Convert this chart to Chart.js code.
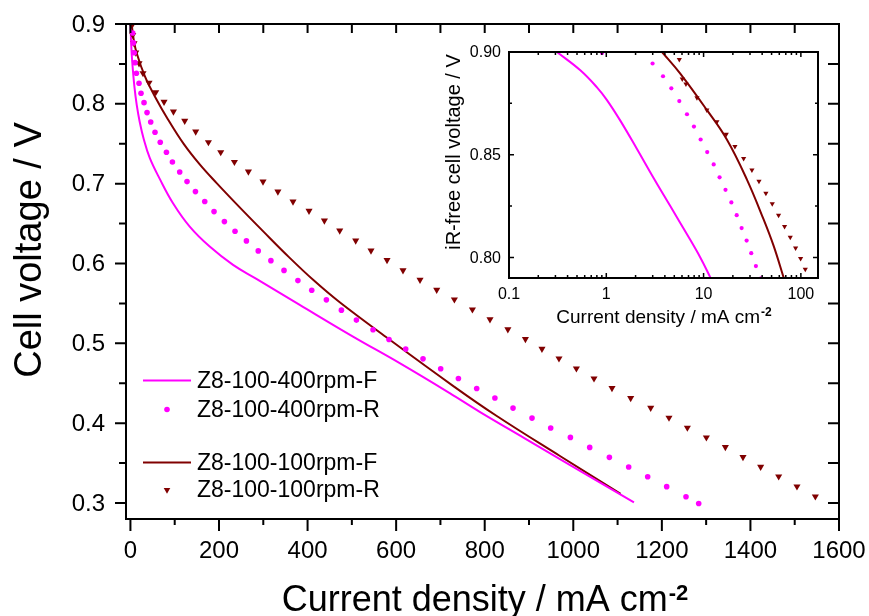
<!DOCTYPE html>
<html lang="en">
<head>
<meta charset="UTF-8">
<title>Cell voltage vs current density</title>
<script src="https://cdn.jsdelivr.net/npm/chart.js"></script>
<style>
    body { margin: 0; background: #fff; }
    #wrap { position: relative; width: 869px; height: 616px; }
    #mainChart { position: absolute; left: 0; top: 0; }
    #insetChart { position: absolute; left: 440px; top: 30px; }
</style>
</head>
<body>
<div id="wrap">
    <canvas id="mainChart" width="869" height="616"></canvas>
    <canvas id="insetChart" width="400" height="310"></canvas>
</div>
<script>
// ---- main plot: current density (mA cm-2) vs cell voltage (V) ----
const f400I = [0.3, 1.8, 4.1, 9.0, 14.2, 21.0, 30.0, 43.6, 66.2, 96.2, 133.9, 179.0, 231.7, 284.5, 382.3, 502.6, 608.0, 721.0, 788.7, 890.3, 991.9, 1137.0];
const f400V = [0.9, 0.8737, 0.8524, 0.8215, 0.7986, 0.7773, 0.7560, 0.7322, 0.7060, 0.6755, 0.6462, 0.6212, 0.5983, 0.5808, 0.5482, 0.5085, 0.4752, 0.4377, 0.4143, 0.3811, 0.3479, 0.3007];

const r400I = [5.2, 6.8, 8.6, 10.4, 13.5, 19.4, 23.9, 30.7, 37.5, 45.8, 55.5, 67.3, 81.3, 94.8, 111.3, 127.8, 146.8, 167.8, 188.8, 212.2, 236.2, 261.9, 288.6, 317.2, 346.8, 378.2, 409.4, 442.5, 476.4, 510.3, 547.8, 583.9, 621.6, 660.7, 700.6, 740.6, 781.9, 823.0, 863.9, 906.8, 949.0, 993.5, 1037.1, 1081.5, 1125.1, 1168.0, 1210.9, 1254.5, 1283.2];
const r400V = [0.8887, 0.8763, 0.8639, 0.8516, 0.8383, 0.8258, 0.8132, 0.8015, 0.7890, 0.7773, 0.7644, 0.7519, 0.7394, 0.7272, 0.7147, 0.7026, 0.6901, 0.6776, 0.6650, 0.6525, 0.6405, 0.6283, 0.6158, 0.6036, 0.5914, 0.5786, 0.5666, 0.5545, 0.5416, 0.5291, 0.5170, 0.5048, 0.4928, 0.4806, 0.4681, 0.4560, 0.4435, 0.4315, 0.4189, 0.4064, 0.3939, 0.3822, 0.3697, 0.3572, 0.3452, 0.3330, 0.3205, 0.3079, 0.2995];

const f100I = [2.7, 7.5, 14.2, 33.0, 55.5, 84.2, 120.3, 156.5, 194.2, 246.8, 301.0, 357.4, 413.8, 472.6, 578.0, 728.4, 826.4, 969.0, 1107.0];
const f100V = [0.9, 0.8800, 0.8633, 0.8340, 0.8090, 0.7811, 0.7498, 0.7241, 0.7010, 0.6703, 0.6396, 0.6083, 0.5789, 0.5514, 0.5076, 0.4468, 0.4093, 0.3592, 0.3116];

const r100I = [3.4, 5.2, 8.1, 12.0, 19.4, 28.4, 42.0, 57.1, 75.9, 97.1, 122.6, 147.4, 176.1, 203.9, 234.8, 266.4, 299.4, 333.0, 367.1, 403.3, 438.0, 472.6, 508.7, 543.2, 579.4, 615.5, 653.9, 691.6, 731.5, 772.2, 811.9, 852.3, 891.9, 929.3, 967.7, 1007.0, 1046.8, 1087.4, 1129.6, 1174.8, 1216.1, 1257.6, 1300.5, 1343.4, 1383.2, 1423.1, 1463.8, 1505.1, 1546.6];
const r100V = [0.8984, 0.8862, 0.8758, 0.8641, 0.8508, 0.8383, 0.8265, 0.8145, 0.8024, 0.7903, 0.7786, 0.7652, 0.7519, 0.7394, 0.7272, 0.7151, 0.7026, 0.6901, 0.6775, 0.6659, 0.6538, 0.6412, 0.6287, 0.6162, 0.6042, 0.5914, 0.5795, 0.5670, 0.5549, 0.5424, 0.5301, 0.5176, 0.5053, 0.4932, 0.4810, 0.4685, 0.4560, 0.4440, 0.4314, 0.4193, 0.4068, 0.3943, 0.3821, 0.3701, 0.3576, 0.3454, 0.3333, 0.3207, 0.3082];

// ---- inset: iR-free cell voltage, log current density ----
const inF400I = [0.311, 0.541, 0.802, 1.016, 1.393, 2.067, 3.063, 4.546, 6.75, 9.25, 11.72];
const inF400V = [0.9, 0.8911, 0.8828, 0.8766, 0.8666, 0.8528, 0.8387, 0.8250, 0.8113, 0.8000, 0.7903];
const inR400I = [0.904, 2.99, 3.83, 4.66, 5.63, 6.75, 7.96, 9.33, 10.9, 12.7, 14.6, 16.8, 19.3, 21.9, 24.6, 27.7, 30.9, 34.5, 38.9];
const inR400V = [0.8995, 0.8944, 0.8882, 0.8823, 0.8761, 0.8697, 0.8637, 0.8574, 0.8513, 0.8453, 0.8390, 0.8329, 0.8268, 0.8206, 0.8143, 0.8082, 0.8021, 0.7958, 0.7898];
const inF100I = [3.74, 5.76, 10.8, 17.4, 27.9, 41.4, 52.5, 66.4];
const inF100V = [0.9, 0.8895, 0.8718, 0.8573, 0.8379, 0.8185, 0.8056, 0.7903];
const inR100I = [5.63, 6.04, 6.59, 8.55, 10.8, 13.7, 17.1, 21.0, 25.8, 31.4, 37.1, 43.7, 50.8, 59.0, 68.0, 77.8, 88.3, 99.4, 111, 125];
const inR100V = [0.8963, 0.8869, 0.8844, 0.8777, 0.8718, 0.8661, 0.8600, 0.8540, 0.8482, 0.8426, 0.8371, 0.8313, 0.8261, 0.8205, 0.8151, 0.8098, 0.8046, 0.7995, 0.7943, 0.7898];

const legendLabels = ['Z8-100-400rpm-F', 'Z8-100-400rpm-R', 'Z8-100-100rpm-F', 'Z8-100-100rpm-R'];

// ticks
const mainXMajor = [0, 200, 400, 600, 800, 1000, 1200, 1400, 1600];
const mainXMinor = [100, 300, 500, 700, 900, 1100, 1300, 1500];
const mainYMajor = [0.3, 0.4, 0.5, 0.6, 0.7, 0.8, 0.9];
const mainYMinor = [0.35, 0.45, 0.55, 0.65, 0.75, 0.85];
const insetXMajor = [0.1, 1, 10, 100];
const insetXLabels = ['0.1', '1', '10', '100'];
const insetXMinor = [0.2, 0.3, 0.4, 0.5, 0.6, 0.7, 0.8, 0.9, 2, 3, 4, 5, 6, 7, 8, 9, 20, 30, 40, 50, 60, 70, 80, 90];
const insetYMajor = [0.80, 0.85, 0.90];
const insetYMinor = [0.825, 0.875];

const PINK = '#ff00ff';
const DARK = '#800000';
const FONT = '"Liberation Sans", Arial, sans-serif';

function pts(xs, ys) {
    return xs.map((x, i) => ({ x: x, y: ys[i] }));
}

function lineSet(label, xs, ys, color) {
    return {
        label: label, data: pts(xs, ys), showLine: true, pointRadius: 0,
        borderColor: color, borderWidth: 2, tension: 0.4, order: 2
    };
}

function dotSet(label, xs, ys, color, r) {
    return {
        label: label, data: pts(xs, ys), pointRadius: r, pointBorderWidth: 0,
        backgroundColor: color, borderColor: color, order: 1
    };
}

function triSet(label, xs, ys, color, r) {
    return {
        label: label, data: pts(xs, ys), pointStyle: 'triangle', rotation: 180,
        pointRadius: r, pointBorderWidth: 0, backgroundColor: color, borderColor: color, order: 1
    };
}

function tick(ctx, x1, y1, x2, y2) {
    ctx.moveTo(x1, y1);
    ctx.lineTo(x2, y2);
}

function downTriangle(ctx, x, y, r) {
    ctx.beginPath();
    ctx.moveTo(x, y + r);
    ctx.lineTo(x - r * 0.866, y - r / 2);
    ctx.lineTo(x + r * 0.866, y - r / 2);
    ctx.closePath();
    ctx.fill();
}

const mainDeco = {
    id: 'mainDeco',
    afterDraw(chart) {
        const { ctx, chartArea: a, scales: { x, y } } = chart;
        ctx.save();
        ctx.strokeStyle = '#000';
        ctx.lineWidth = 2;
        ctx.strokeRect(a.left, a.top, a.right - a.left, a.bottom - a.top);

        ctx.beginPath();
        mainXMajor.forEach(v => {
            const px = x.getPixelForValue(v);
            tick(ctx, px, a.bottom, px, a.bottom + 12);
            tick(ctx, px, a.top, px, a.top + 9);
        });
        mainXMinor.forEach(v => {
            const px = x.getPixelForValue(v);
            tick(ctx, px, a.bottom, px, a.bottom + 6);
            tick(ctx, px, a.top, px, a.top + 9);
        });
        mainYMajor.forEach(v => {
            const py = y.getPixelForValue(v);
            tick(ctx, a.left, py, a.left - 11, py);
            tick(ctx, a.right, py, a.right - 11, py);
        });
        mainYMinor.forEach(v => {
            const py = y.getPixelForValue(v);
            tick(ctx, a.left, py, a.left - 7, py);
            tick(ctx, a.right, py, a.right - 11, py);
        });
        ctx.stroke();

        // tick labels
        ctx.fillStyle = '#000';
        ctx.font = '24px ' + FONT;
        ctx.textAlign = 'center';
        ctx.textBaseline = 'middle';
        mainXMajor.forEach(v => ctx.fillText(String(v), x.getPixelForValue(v), a.bottom + 32));
        ctx.textAlign = 'right';
        mainYMajor.forEach(v => ctx.fillText(v.toFixed(1), a.left - 21, y.getPixelForValue(v) + 1));

        // axis titles
        ctx.font = '36px ' + FONT;
        const t1 = 'Current density / mA cm';
        const w1 = ctx.measureText(t1).width;
        ctx.font = 'bold 22px ' + FONT;
        const w2 = ctx.measureText('-2').width;
        const sx = (a.left + a.right) / 2 + 2 - (w1 + w2) / 2;
        ctx.textAlign = 'left';
        ctx.textBaseline = 'alphabetic';
        ctx.font = '36px ' + FONT;
        ctx.fillText(t1, sx, 611);
        ctx.font = 'bold 22px ' + FONT;
        ctx.fillText('-2', sx + w1 + 1, 600);

        ctx.save();
        ctx.translate(41, 250);
        ctx.rotate(-Math.PI / 2);
        ctx.font = '38px ' + FONT;
        ctx.textAlign = 'center';
        ctx.fillText('Cell voltage / V', 0, 0);
        ctx.restore();

        // legend
        const rows = [380.5, 409.5, 462.5, 490];
        ctx.font = '23px ' + FONT;
        ctx.textAlign = 'left';
        ctx.textBaseline = 'middle';
        rows.forEach((ry, i) => {
            const color = i < 2 ? PINK : DARK;
            ctx.fillStyle = '#000';
            ctx.fillText(legendLabels[i], 197, ry + 1);
            ctx.fillStyle = color;
            ctx.strokeStyle = color;
            if (i % 2 === 0) {
                ctx.lineWidth = 2;
                ctx.beginPath();
                tick(ctx, 143, ry, 191, ry);
                ctx.stroke();
            } else if (i === 1) {
                ctx.beginPath();
                ctx.arc(167, ry, 2.8, 0, Math.PI * 2);
                ctx.fill();
            } else {
                downTriangle(ctx, 167, ry, 3.8);
            }
        });
        ctx.restore();
    }
};

const insetDeco = {
    id: 'insetDeco',
    afterDraw(chart) {
        const { ctx, chartArea: a, scales: { x, y } } = chart;
        ctx.save();
        ctx.strokeStyle = '#000';
        ctx.lineWidth = 2;
        ctx.strokeRect(a.left, a.top, a.right - a.left, a.bottom - a.top);
        ctx.lineWidth = 1.5;
        ctx.beginPath();
        insetXMajor.forEach(v => {
            const px = x.getPixelForValue(v);
            tick(ctx, px, a.bottom, px, a.bottom - 5);
            tick(ctx, px, a.top, px, a.top + 5);
        });
        insetXMinor.forEach(v => {
            const px = x.getPixelForValue(v);
            tick(ctx, px, a.bottom, px, a.bottom - 3);
            tick(ctx, px, a.top, px, a.top + 3);
        });
        insetYMajor.forEach(v => {
            const py = y.getPixelForValue(v);
            tick(ctx, a.left, py, a.left + 5, py);
            tick(ctx, a.right, py, a.right - 5, py);
        });
        insetYMinor.forEach(v => {
            const py = y.getPixelForValue(v);
            tick(ctx, a.left, py, a.left + 3, py);
            tick(ctx, a.right, py, a.right - 3, py);
        });
        ctx.stroke();

        ctx.fillStyle = '#000';
        ctx.font = '16px ' + FONT;
        ctx.textAlign = 'center';
        ctx.textBaseline = 'middle';
        insetXMajor.forEach((v, i) => ctx.fillText(insetXLabels[i], x.getPixelForValue(v), a.bottom + 17));
        ctx.textAlign = 'right';
        insetYMajor.forEach(v => ctx.fillText(v.toFixed(2), a.left - 8, y.getPixelForValue(v) + 1));

        ctx.font = '19px ' + FONT;
        const t1 = 'Current density / mA cm';
        const w1 = ctx.measureText(t1).width;
        ctx.font = 'bold 12px ' + FONT;
        const w2 = ctx.measureText('-2').width;
        const sx = (a.left + a.right) / 2 - (w1 + w2) / 2;
        ctx.textAlign = 'left';
        ctx.textBaseline = 'alphabetic';
        ctx.font = '19px ' + FONT;
        ctx.fillText(t1, sx, 293);
        ctx.font = 'bold 12px ' + FONT;
        ctx.fillText('-2', sx + w1 + 1, 286);

        ctx.save();
        ctx.translate(20, 122);
        ctx.rotate(-Math.PI / 2);
        ctx.font = '20px ' + FONT;
        ctx.textAlign = 'center';
        ctx.fillText('iR-free cell voltage / V', 0, 0);
        ctx.restore();
        ctx.restore();
    }
};

new Chart(document.getElementById('mainChart'), {
    type: 'scatter',
    data: {
        datasets: [
            lineSet(legendLabels[0], f400I, f400V, PINK),
            dotSet(legendLabels[1], r400I, r400V, PINK, 2.8),
            lineSet(legendLabels[2], f100I, f100V, DARK),
            triSet(legendLabels[3], r100I, r100V, DARK, 4.1)
        ]
    },
    options: {
        responsive: false,
        animation: false,
        layout: { padding: { left: 126, right: 30, top: 24, bottom: 97 } },
        scales: {
            x: { type: 'linear', min: -10, max: 1600, display: false },
            y: { type: 'linear', min: 0.28, max: 0.9, display: false }
        },
        plugins: { legend: { display: false }, tooltip: { enabled: false } }
    },
    plugins: [mainDeco]
});

new Chart(document.getElementById('insetChart'), {
    type: 'scatter',
    data: {
        datasets: [
            lineSet(legendLabels[0], inF400I, inF400V, PINK),
            dotSet(legendLabels[1], inR400I, inR400V, PINK, 2.1),
            lineSet(legendLabels[2], inF100I, inF100V, DARK),
            triSet(legendLabels[3], inR100I, inR100V, DARK, 3)
        ]
    },
    options: {
        responsive: false,
        animation: false,
        layout: { padding: { left: 69, right: 22, top: 22, bottom: 62 } },
        scales: {
            x: { type: 'logarithmic', min: 0.1, max: 150, display: false },
            y: { type: 'linear', min: 0.79, max: 0.9, display: false }
        },
        plugins: { legend: { display: false }, tooltip: { enabled: false } }
    },
    plugins: [insetDeco]
});
</script>
</body>
</html>
